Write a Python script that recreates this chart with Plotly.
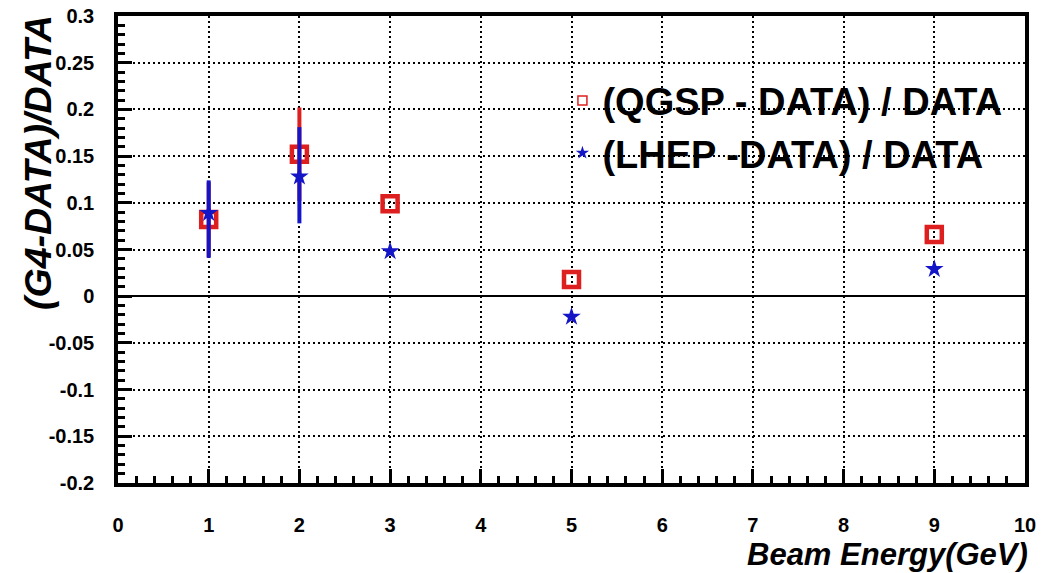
import plotly.graph_objects as go

# ---- data ----
energy = [1, 2, 3, 5, 9]
qgsp = [0.082, 0.152, 0.099, 0.018, 0.066]
qgsp_err = [0.04, 0.05, 0.0, 0.0, 0.0]
lhep = [0.089, 0.128, 0.048, -0.022, 0.029]
lhep_err_plus = [0.035, 0.053, 0.0, 0.0, 0.0]
lhep_err_minus = [0.048, 0.05, 0.0, 0.0, 0.0]

y_tickvals = [-0.2, -0.15, -0.1, -0.05, 0, 0.05, 0.1, 0.15, 0.2, 0.25, 0.3]
y_ticktext = ["-0.2", "-0.15", "-0.1", "-0.05", "0", "0.05", "0.1", "0.15", "0.2", "0.25", "0.3"]
x_tickvals = [0, 1, 2, 3, 4, 5, 6, 7, 8, 9, 10]
x_ticktext = ["0", "1", "2", "3", "4", "5", "6", "7", "8", "9", "10"]

legend_names = ["(QGSP - DATA) / DATA", "(LHEP -DATA) / DATA"]

RED = "#dd1f1f"
BLUE = "#1515c8"
FONT = "Liberation Sans"

fig = go.Figure()

fig.add_trace(go.Scatter(
    x=energy, y=qgsp, mode="markers", showlegend=False,
    marker=dict(symbol="square-open", size=15, color=RED, line=dict(width=4.5, color=RED)),
    error_y=dict(type="data", array=qgsp_err, color=RED, thickness=4, width=0),
))
fig.add_trace(go.Scatter(
    x=energy, y=lhep, mode="markers", showlegend=False,
    marker=dict(symbol="star", size=14, color=BLUE, line=dict(width=0)),
    error_y=dict(type="data", array=lhep_err_plus, arrayminus=lhep_err_minus,
                 color=BLUE, thickness=4, width=0),
))

# legend entries (small symbols as in the reference)
fig.add_trace(go.Scatter(
    x=[None], y=[None], mode="markers", name=legend_names[0],
    marker=dict(symbol="square-open", size=9, color=RED, line=dict(width=1.5, color=RED)),
))
fig.add_trace(go.Scatter(
    x=[None], y=[None], mode="markers", name=legend_names[1],
    marker=dict(symbol="star", size=10, color=BLUE, line=dict(width=0)),
))

axis_common = dict(
    showline=True, linewidth=3.5, linecolor="black", mirror=True,
    ticks="inside", ticklen=14, tickwidth=2.5, tickcolor="black",
    showgrid=True, gridcolor="black", gridwidth=2, griddash="2px,3px",
    tickfont=dict(family=FONT, size=20, color="black", weight="bold"),
    automargin=False, ticklabeloverflow="allow",
)

fig.update_xaxes(
    range=[0, 10], tickvals=x_tickvals, ticktext=x_ticktext,
    minor=dict(dtick=0.2, ticks="inside", ticklen=7, tickwidth=2.5, tickcolor="black", showgrid=False),
    ticklabelstandoff=21, zeroline=False,
    **axis_common,
)
fig.update_yaxes(
    range=[-0.2, 0.3], tickvals=y_tickvals, ticktext=y_ticktext,
    minor=dict(dtick=0.01, ticks="inside", ticklen=7, tickwidth=2.5, tickcolor="black", showgrid=False),
    ticklabelstandoff=16,
    zeroline=True, zerolinecolor="black", zerolinewidth=1.5,
    **axis_common,
)

fig.add_annotation(
    text="<b><i>Beam Energy(GeV)</i></b>", xref="paper", yref="paper",
    x=1.006, y=-0.154, xanchor="right", yanchor="middle", showarrow=False,
    font=dict(family=FONT, size=31, color="black"),
)
fig.add_annotation(
    text="<b><i>(G4-DATA)/DATA</i></b>", xref="paper", yref="paper",
    x=-0.089, y=1.006, xanchor="center", yanchor="top", showarrow=False,
    textangle=-90,
    font=dict(family=FONT, size=37.5, color="black"),
)

fig.update_layout(
    width=1042, height=573,
    margin=dict(l=118, r=17, t=16, b=90),
    paper_bgcolor="white", plot_bgcolor="white",
    legend=dict(
        x=0.49, y=0.886, xanchor="left", yanchor="top",
        bgcolor="rgba(0,0,0,0)", borderwidth=0,
        font=dict(family=FONT, size=38, color="black", weight="bold"),
        tracegroupgap=0, itemwidth=30,
    ),
)

fig.write_html("out.html", config={"displayModeBar": False},
               post_script="document.body.style.margin='0';")
